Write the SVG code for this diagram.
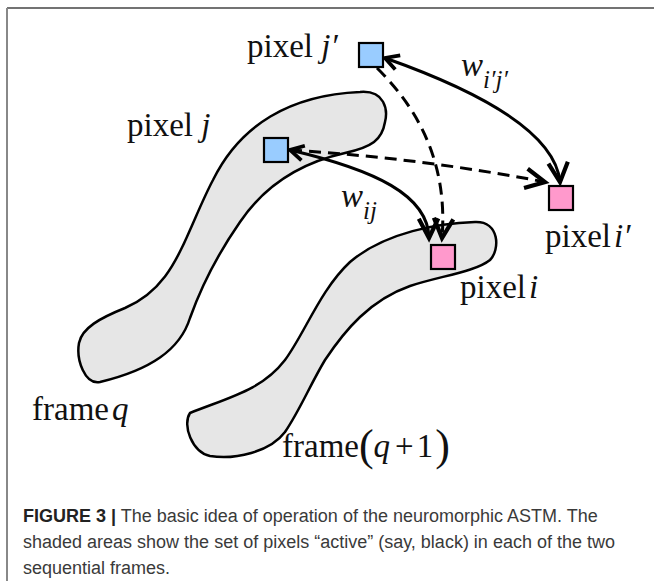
<svg xmlns="http://www.w3.org/2000/svg" width="654" height="581" viewBox="0 0 654 581">
<style>
.blob{fill:#e6e6e6;stroke:#000;stroke-width:2.5}
.sq{stroke:#000;stroke-width:2.2}
.blue{fill:#99ccff}
.pink{fill:#ff99cc}
.lbl{font-family:"Liberation Serif","Times New Roman",serif;font-size:33px;fill:#111}
.it{font-style:italic}
.con{fill:none;stroke:#000;stroke-width:3}
.dash{stroke-dasharray:12 7}
.cap{font-family:"Liberation Sans",Arial,sans-serif;font-size:18px;fill:#3a3a3a}
</style>
<defs>
<marker id="ah" markerUnits="userSpaceOnUse" markerWidth="30" markerHeight="30" refX="0" refY="0" viewBox="-16 -10 20 20" orient="auto" overflow="visible">
<path d="M -13,-6.5 L 0,0 L -13,6.5" fill="none" stroke="#000" stroke-width="2.8" stroke-dasharray="none" stroke-linejoin="miter"/>
</marker>
<marker id="as" markerUnits="userSpaceOnUse" markerWidth="30" markerHeight="30" refX="0" refY="0" viewBox="-16 -10 20 20" orient="auto-start-reverse" overflow="visible">
<path d="M -9,-5 L 0,0 L -9,5" fill="none" stroke="#000" stroke-width="2.5" stroke-dasharray="none"/>
</marker>
</defs>
<rect width="654" height="581" fill="#fff"/>
<path d="M 7,8 H 654" stroke="#444" stroke-width="1.6" fill="none"/>
<path d="M 7,8 V 581" stroke="#888" stroke-width="2" fill="none"/>

<g id="frame-q">
<path class="blob" d="M 213,180 C 240,125 290,95 360,92 C 385,90 388,110 385,122 C 382,140 372,147 345,153 C 300,163 265,185 240,222 C 215,258 200,290 190,318 C 180,350 150,370 100,382 C 85,385 76,360 79,343 C 82,328 100,318 125,308 C 160,293 175,265 190,230 C 198,212 205,195 213,180 Z"/>
<text class="lbl" x="32" y="420">frame<tspan class="it" dx="3">q</tspan></text>
</g>
<g id="frame-q1">
<path class="blob" d="M 190,413 C 230,397 262,390 285,360 C 305,333 320,290 350,262 C 385,232 440,223 475,222 C 500,221 500,250 490,260 C 475,272 440,276 410,286 C 370,300 345,330 325,360 C 310,385 300,410 285,432 C 270,452 235,460 210,456 C 192,452 182,425 190,413 Z"/>
<text class="lbl" x="282" y="457">frame<tspan font-size="44" dy="3">(</tspan><tspan class="it" dy="-3">q</tspan><tspan dx="5">+</tspan><tspan dx="3">1</tspan><tspan font-size="44" dx="2" dy="3">)</tspan></text>
</g>

<g id="connectors">
<path id="e-wij" class="con" d="M 290,150 C 375,170 428,195 429,238" marker-start="url(#as)" marker-end="url(#ah)"/>
<path id="e-wi2j2" class="con" d="M 385,58 C 470,88 555,130 560,182" marker-start="url(#as)" marker-end="url(#ah)"/>
<path id="e-j-i2" class="con dash" d="M 290,150 Q 420,158 545,182" marker-end="url(#ah)"/>
<path id="e-j2-i" class="con dash" d="M 377,68 Q 450,140 442,238" marker-end="url(#ah)"/>
<text class="lbl it" x="341" y="207" font-size="44">w<tspan font-size="25" dy="12">ij</tspan></text>
<text class="lbl it" x="461" y="76" font-size="44">w<tspan font-size="25" dy="12">i′j′</tspan></text>
</g>

<g id="pixel-j2">
<rect class="sq blue" x="359" y="43" width="24" height="24"/>
<text class="lbl" x="247" y="57">pixel <tspan class="it">j′</tspan></text>
</g>
<g id="pixel-j">
<rect class="sq blue" x="264" y="138" width="24" height="24"/>
<text class="lbl" x="127" y="136">pixel <tspan class="it">j</tspan></text>
</g>
<g id="pixel-i2">
<rect class="sq pink" x="549" y="186" width="24" height="24"/>
<text class="lbl" x="545" y="247">pixel<tspan class="it" dx="3">i′</tspan></text>
</g>
<g id="pixel-i">
<rect class="sq pink" x="431" y="245" width="24" height="24"/>
<text class="lbl" x="460" y="298">pixel<tspan class="it" dx="3">i</tspan></text>
</g>

<g id="caption">
<text class="cap" x="23" y="522"><tspan font-weight="bold" fill="#222">FIGURE 3 |</tspan> The basic idea of operation of the neuromorphic ASTM. The</text>
<text class="cap" x="23" y="548">shaded areas show the set of pixels “active” (say, black) in each of the two</text>
<text class="cap" x="23" y="574">sequential frames.</text>
</g>
</svg>
